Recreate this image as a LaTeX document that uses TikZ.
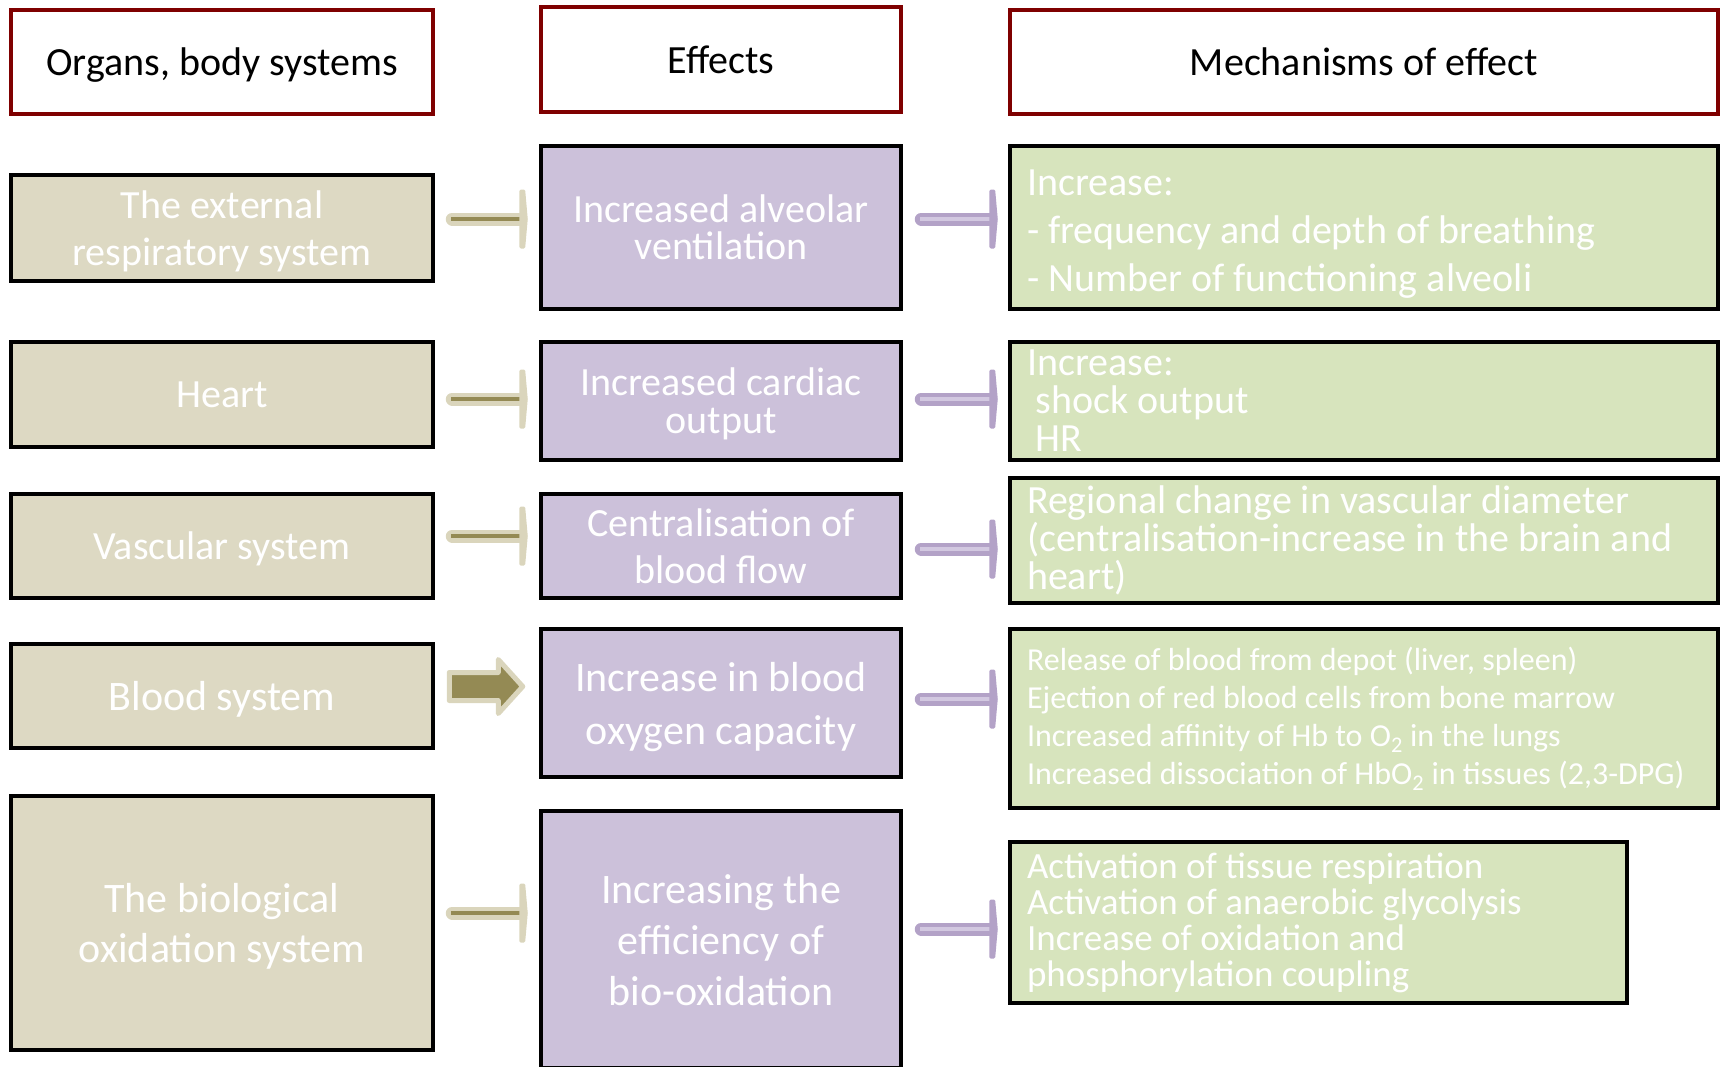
\documentclass[tikz,border=0pt]{standalone}
\usepackage{fontspec}
\setmainfont{Carlito}
\usetikzlibrary{calc}
\definecolor{headRed}{HTML}{7F0000}
\definecolor{organFill}{HTML}{DDD9C3}
\definecolor{effectFill}{HTML}{CCC1DA}
\definecolor{mechFill}{HTML}{D7E4BD}
\definecolor{oliveLight}{HTML}{DAD5BC}
\definecolor{oliveDark}{HTML}{948A54}
\definecolor{lilacDark}{HTML}{B3A2C7}
\definecolor{lilacLight}{HTML}{D2C8E0}
\newcommand{\fs}[2]{\fontsize{#1}{#2}\selectfont}
% thin link: shaft with a flat bar at its end
\newcommand{\teeArrow}[3]{%
  \draw[#1 shaft] ([xshift=6pt]#2) -- ([xshift=-6pt]#3);
  \draw[#1 core] ([xshift=5pt]#2) -- ([xshift=-7pt]#3);
  \filldraw[#1 bar] ([xshift=-6pt,yshift=28pt]#3) -- ([xshift=-3pt,yshift=28pt]#3)
    -- ([xshift=-0.5pt]#3) -- ([xshift=-3pt,yshift=-28pt]#3)
    -- ([xshift=-6pt,yshift=-28pt]#3) -- cycle;
}

\begin{document}
\begin{tikzpicture}[
  x=1pt, y=-1pt,
  head/.style={rectangle, draw=headRed, line width=4.5pt, fill=white,
    inner sep=0pt, align=center, font=\fs{40}{48}, text=black, text depth=0pt},
  organ/.style={rectangle, draw=black, line width=4.5pt, fill=organFill,
    inner sep=0pt, align=center, text=white, minimum width=422pt, text depth=0pt},
  effect/.style={rectangle, draw=black, line width=4.5pt, fill=effectFill,
    inner sep=0pt, align=center, text=white, minimum width=360pt, text depth=0pt},
  mech/.style={rectangle, draw=black, line width=4.5pt, fill=mechFill,
    inner xsep=17pt, inner ysep=0pt, align=flush left, text=white,
    text width=674pt},
  olive shaft/.style={draw=oliveLight, line width=13pt, line cap=round},
  olive core/.style={draw=oliveDark, line width=4pt},
  olive bar/.style={draw=oliveLight, fill=oliveLight, line width=3pt, line join=round},
  lilac shaft/.style={draw=lilacDark, line width=13pt, line cap=round},
  lilac core/.style={draw=lilacLight, line width=4pt},
  lilac bar/.style={draw=lilacDark, fill=lilacDark, line width=3pt, line join=round},
  big arrow/.style={draw=oliveLight, fill=oliveDark, line width=5pt, line join=round}
]
  \clip (0,0) rectangle (1721,1066);

  % Headers
  \node[head, minimum width=422pt, minimum height=104pt] (hOrgan) at (222,62) {Organs, body systems};
  \node[head, minimum width=360pt, minimum height=105pt] (hEffect) at (721,59.5) {Effects};
  \node[head, minimum width=708pt, minimum height=104pt] (hMech) at (1364,62) {Mechanisms of effect};

  % Organs, body systems
  \node[organ, minimum height=106pt, font=\fs{40}{47}] (org1) at (222,228) {The external\\respiratory system};
  \node[organ, minimum height=105pt, font=\fs{40}{48}] (org2) at (222,394.5) {Heart};
  \node[organ, minimum height=104pt, font=\fs{40}{48}] (org3) at (222,546) {Vascular system};
  \node[organ, minimum height=104pt, font=\fs{42}{50}] (org4) at (222,696) {Blood system};
  \node[organ, minimum height=254pt, font=\fs{42}{50}] (org5) at (222,923) {The biological\\oxidation system};

  % Effects
  \node[effect, minimum height=163pt, font=\fs{40}{37}] (eff1) at (721,227.5) {Increased alveolar\\ventilation};
  \node[effect, minimum height=118pt, font=\fs{40}{38}] (eff2) at (721,401) {Increased cardiac\\output};
  \node[effect, minimum height=104pt, font=\fs{40}{47}] (eff3) at (721,546) {Centralisation of\\blood flow};
  \node[effect, minimum height=148pt, font=\fs{42}{53}] (eff4) at (721,703) {Increase in blood\\oxygen capacity};
  \node[effect, minimum height=257pt, font=\fs{42}{51}] (eff5) at (721,939.5) {Increasing the\\efficiency of\\bio-oxidation};

  % Mechanisms of effect
  \node[mech, minimum height=163pt, font=\fs{40}{48}] (mech1) at (1364,227.5)
    {\rule{0pt}{38pt}Increase:\\- frequency and depth of breathing\\- Number of functioning alveoli};
  \node[mech, minimum height=118pt, font=\fs{40}{38}] (mech2) at (1364,401)
    {Increase:\\\hspace*{0.22em}shock output\\\hspace*{0.22em}HR};
  \node[mech, minimum height=125pt, font=\fs{40}{38}] (mech3) at (1364,540.5)
    {Regional change in vascular diameter\\(centralisation-increase in the brain and\\heart)};
  \node[mech, minimum height=179pt, font=\fs{32}{38}] (mech4) at (1364,718.5)
    {Release of blood from depot (liver, spleen)\\Ejection of red blood cells from bone marrow\\
     Increased affinity of Hb to O\textsubscript{2} in the lungs\\
     Increased dissociation of HbO\textsubscript{2} in tissues (2,3-DPG)};
  \node[mech, minimum height=161pt, text width=583pt, font=\fs{37}{36}] (mech5) at (1318.5,922.5)
    {Activation of tissue respiration\\Activation of anaerobic glycolysis\\Increase of oxidation and\\phosphorylation coupling};

  % Links organ -> effect
  \foreach \r/\dy in {1/9, 2/-4.5, 3/10, 5/10} {
    \path ([xshift=11pt,yshift=\dy pt]org\r.east) coordinate (l\r s);
    \path (eff\r.west |- l\r s) ++(-12pt,0) coordinate (l\r e);
    \teeArrow{olive}{l\r s}{l\r e}
  }
  \path ([xshift=11pt,yshift=9.5pt]org4.east) coordinate (l4s);
  \path (eff4.west |- l4s) ++(-12pt,0) coordinate (l4e);
  \draw[big arrow] ([xshift=3pt,yshift=14pt]l4s) -- ([xshift=52pt,yshift=14pt]l4s)
    -- ([xshift=52pt,yshift=27pt]l4s) -- ([xshift=-4pt]l4e)
    -- ([xshift=52pt,yshift=-27pt]l4s) -- ([xshift=52pt,yshift=-14pt]l4s)
    -- ([xshift=3pt,yshift=-14pt]l4s) -- cycle;

  % Links effect -> mechanism
  \foreach \r/\dy in {1/8.5, 2/2, 3/-3, 4/4, 5/10.5} {
    \path ([xshift=12pt,yshift=\dy pt]eff\r.east) coordinate (r\r s);
    \path (mech\r.west |- r\r s) ++(-11pt,0) coordinate (r\r e);
    \teeArrow{lilac}{r\r s}{r\r e}
  }
\end{tikzpicture}
\end{document}
